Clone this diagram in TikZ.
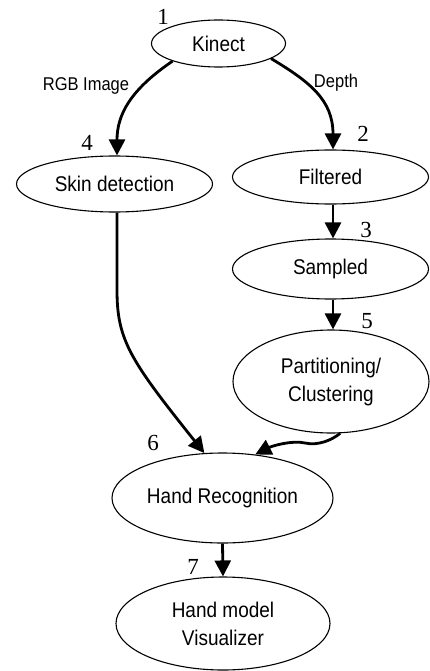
\documentclass[tikz,border=0pt]{standalone}
\usepackage{fontspec}
\usepackage{graphicx}
\setmainfont{Liberation Sans}
\newfontfamily\numfont{Liberation Serif}
\newcommand{\vst}[1]{\scalebox{1}[1.12]{#1}}
\usetikzlibrary{shapes.geometric,arrows.meta,calc}
\begin{document}
\begin{tikzpicture}[x=1pt,y=-1pt,
  proc/.style={draw,ellipse,line width=1.1pt,inner sep=0pt,font=\fontsize{19}{28}\selectfont,align=center},
  flow/.style={line width=2.8pt,-{Triangle[length=16pt,width=16pt]}},
  num/.style={font=\numfont\fontsize{23}{23}\selectfont,inner sep=0pt},
  lbl/.style={font=\fontsize{16.5}{18}\selectfont,inner sep=0pt}]
\useasboundingbox (0,0) rectangle (430,671);
% nodes
\node[proc,minimum width=134pt,minimum height=47pt] (kin) at (218.5,43.5) {\vst{Kinect}};
\node[proc,minimum width=196pt,minimum height=56pt] (skin) at (114.5,184) {\vst{Skin detection}};
\node[proc,minimum width=196pt,minimum height=54pt] (fil) at (330.5,177) {\vst{Filtered}};
\node[proc,minimum width=196pt,minimum height=60pt] (sam) at (330.5,269) {\vst{Sampled}};
\node[proc,minimum width=196pt,minimum height=103pt] (par) at (331,381.5) {\vst{Partitioning/}\\\vst{Clustering}};
\node[proc,minimum width=221pt,minimum height=90pt] (hr) at (222.5,498) {\vst{Hand Recognition}};
\node[proc,minimum width=214pt,minimum height=93pt] (vis) at (223,623.5) {\vst{Hand model}\\\vst{Visualizer}};
% numbers
\node[num] (n1) at (163,17) {1};
\node[num] (n2) at (363,134) {2};
\node[num] (n3) at (366,230) {3};
\node[num] (n4) at (87,143) {4};
\node[num] (n5) at (367,321) {5};
\node[num] (n6) at (153,443) {6};
\node[num] (n7) at (193,567) {7};
% edge labels
\node[lbl] (lrgb) at (86,86) {\vst{RGB Image}};
\node[lbl] (ldep) at (336,83) {\vst{Depth}};
% connectors
\draw[flow] (kin.201) .. controls (130,90) and (117,115) .. ($(skin.north)+(2.5,0)$);
\draw[flow] (kin.344) .. controls (310,82) and (333,100) .. ($(fil.north)+(2.5,0)$);
\draw[flow] ($(fil.south)+(2.5,0)$) -- ($(sam.north)+(2.5,0)$);
\draw[flow] ($(sam.south)+(2.5,0)$) -- ($(par.north)+(2,0)$);
\draw[flow] ($(skin.south)+(2.5,0)$) -- (117,290) .. controls (117,340) and (130,360) .. (hr.112);
\draw[flow] (par.280) .. controls (332,440) and (318,446) .. (305,443) .. controls (292,440) and (272,446) .. (hr.53);
\draw[flow] (hr.south) -- (vis.north);
\end{tikzpicture}
\end{document}
